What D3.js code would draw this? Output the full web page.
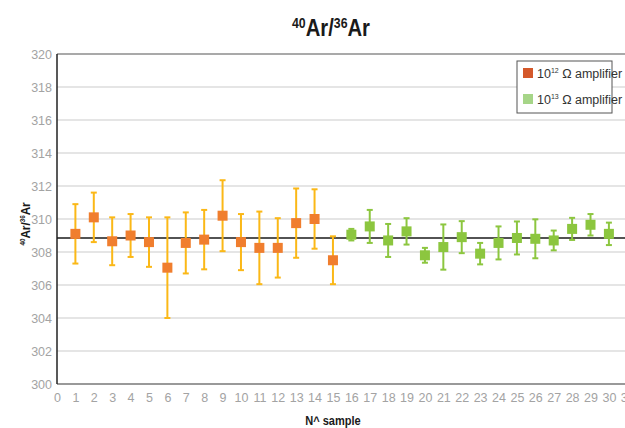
<!DOCTYPE html>
<html>
<head>
<meta charset="utf-8">
<script src="https://cdn.jsdelivr.net/npm/d3@7"></script>
<style>
  body { margin: 0; background: #fff; }
  svg { display: block; font-family: "Liberation Sans Narrow", "Liberation Sans", Arial, sans-serif; }
  .tick-label { fill: #a3a3a3; font-size: 12.5px; }
</style>
</head>
<body>
<div id="chart"></div>
<script>
const width = 625;
const height = 428;

// samples measured with the 10^12 ohm amplifier
const samples12 = [1, 2, 3, 4, 5, 6, 7, 8, 9, 10, 11, 12, 13, 14, 15];
const values12 = [309.1, 310.1, 308.65, 309.0, 308.6, 307.05, 308.55, 308.75, 310.2, 308.6, 308.25, 308.25, 309.75, 310.0, 307.5];
const errors12 = [1.8, 1.5, 1.45, 1.3, 1.5, 3.05, 1.85, 1.8, 2.15, 1.7, 2.2, 1.8, 2.1, 1.8, 1.45];

// samples measured with the 10^13 ohm amplifier
const samples13 = [16, 17, 18, 19, 20, 21, 22, 23, 24, 25, 26, 27, 28, 29, 30];
const values13 = [309.05, 309.55, 308.7, 309.25, 307.8, 308.3, 308.9, 307.9, 308.55, 308.85, 308.8, 308.7, 309.4, 309.65, 309.1];
const errors13 = [0.35, 1.0, 1.0, 0.8, 0.45, 1.37, 0.97, 0.65, 1.0, 1.0, 1.18, 0.6, 0.67, 0.65, 0.68];

const meanValue = 308.85;
const yTicks = d3.range(300, 321, 2);
const xTicks = d3.range(0, 32, 1);

const margin = {left: 57, top: 54, bottom: 44};

const x = d3.scaleLinear().domain([0, 31]).range([margin.left, 627.3]);
const y = d3.scaleLinear().domain([300, 320]).range([height - margin.bottom, margin.top]);

const svg = d3.select("#chart")
  .append("svg")
  .attr("width", width)
  .attr("height", height);

// grid
svg.append("g")
  .selectAll("line")
  .data(yTicks.filter(d => d > 300 && d < 320))
  .join("line")
  .attr("x1", x(0))
  .attr("x2", width)
  .attr("y1", d => y(d))
  .attr("y2", d => y(d))
  .attr("stroke", "#dcdcdc")
  .attr("stroke-width", 1.5);

// frame lines
svg.append("line")
  .attr("x1", x(0)).attr("x2", width)
  .attr("y1", y(320)).attr("y2", y(320))
  .attr("stroke", "#555").attr("stroke-width", 1.2);
svg.append("line")
  .attr("x1", x(0)).attr("x2", width)
  .attr("y1", y(300)).attr("y2", y(300))
  .attr("stroke", "#777").attr("stroke-width", 1.5);
svg.append("line")
  .attr("x1", x(0)).attr("x2", x(0))
  .attr("y1", y(320)).attr("y2", y(300))
  .attr("stroke", "#222").attr("stroke-width", 1.5);

// y axis labels
const yAxis = d3.axisLeft(y).tickValues(yTicks).tickSize(0).tickPadding(5);
svg.append("g")
  .attr("transform", `translate(${x(0)},0)`)
  .call(yAxis)
  .call(g => g.select(".domain").remove())
  .call(g => g.selectAll("text").attr("class", "tick-label").attr("font-family", null).attr("font-size", null).attr("fill", null));

// x axis labels
const xAxis = d3.axisBottom(x).tickValues(xTicks).tickSize(0).tickPadding(9);
svg.append("g")
  .attr("transform", `translate(0,${y(300)})`)
  .call(xAxis)
  .call(g => g.select(".domain").remove())
  .call(g => g.selectAll("text").attr("class", "tick-label").attr("font-family", null).attr("font-size", null).attr("fill", null));

// mean line
svg.append("line")
  .attr("x1", x(0)).attr("x2", width)
  .attr("y1", y(meanValue)).attr("y2", y(meanValue))
  .attr("stroke", "#1a1a1a").attr("stroke-width", 1.5);

function drawSeries(samples, values, errors, barColour, markColour) {
  const data = samples.map((s, i) => ({s, v: values[i], e: errors[i]}));
  const g = svg.append("g");
  const bars = g.selectAll("g").data(data).join("g");
  bars.append("line")
    .attr("x1", d => x(d.s)).attr("x2", d => x(d.s))
    .attr("y1", d => y(d.v + d.e)).attr("y2", d => y(d.v - d.e))
    .attr("stroke", barColour).attr("stroke-width", 2);
  bars.append("line")
    .attr("x1", d => x(d.s) - 3).attr("x2", d => x(d.s) + 3)
    .attr("y1", d => y(d.v + d.e)).attr("y2", d => y(d.v + d.e))
    .attr("stroke", barColour).attr("stroke-width", 2);
  bars.append("line")
    .attr("x1", d => x(d.s) - 3).attr("x2", d => x(d.s) + 3)
    .attr("y1", d => y(d.v - d.e)).attr("y2", d => y(d.v - d.e))
    .attr("stroke", barColour).attr("stroke-width", 2);
  bars.append("rect")
    .attr("x", d => x(d.s) - 5).attr("y", d => y(d.v) - 5)
    .attr("width", 10).attr("height", 10)
    .attr("fill", markColour);
}

drawSeries(samples12, values12, errors12, "#fbb817", "#f07e2e");
drawSeries(samples13, values13, errors13, "#8cc63f", "#8cc63f");

// title (squeezed a little to look condensed)
const title = svg.append("text")
  .attr("transform", "translate(331,36) scale(0.88,1)")
  .attr("text-anchor", "middle")
  .attr("font-weight", "bold")
  .attr("font-size", 23)
  .attr("fill", "#1a1a1a");
title.append("tspan").attr("font-size", 14).attr("dy", -8).text("40");
title.append("tspan").attr("dy", 8).text("Ar/");
title.append("tspan").attr("font-size", 14).attr("dy", -8).text("36");
title.append("tspan").attr("dy", 8).text("Ar");

// y label
const yLabel = svg.append("text")
  .attr("transform", `translate(30,${y(309.7)}) rotate(-90) scale(0.9,1)`)
  .attr("text-anchor", "middle")
  .attr("font-weight", "bold")
  .attr("font-size", 13)
  .attr("fill", "#1a1a1a");
yLabel.append("tspan").attr("font-size", 7).attr("dy", -5).text("40");
yLabel.append("tspan").attr("dy", 5).text("Ar/");
yLabel.append("tspan").attr("font-size", 7).attr("dy", -5).text("36");
yLabel.append("tspan").attr("dy", 5).text("Ar");

// x label
svg.append("text")
  .attr("transform", "translate(333,425) scale(0.85,1)")
  .attr("text-anchor", "middle")
  .attr("font-weight", "bold")
  .attr("font-size", 13)
  .attr("fill", "#1a1a1a")
  .text("N^ sample");

// legend
const legendItems = [
  {exp: "12", colour: "#d4582a"},
  {exp: "13", colour: "#a6d588"}
];
const legend = svg.append("g").attr("transform", "translate(517,61)");
legend.append("rect")
  .attr("width", 95).attr("height", 52)
  .attr("fill", "#fff").attr("stroke", "#555").attr("stroke-width", 1);
const items = legend.selectAll("g.item").data(legendItems).join("g")
  .attr("class", "item")
  .attr("transform", (d, i) => `translate(6,${7 + i * 26})`);
items.append("rect").attr("width", 10).attr("height", 10).attr("fill", d => d.colour);
const itemText = items.append("text")
  .attr("x", 14).attr("y", 10)
  .attr("font-size", 12.5)
  .attr("fill", "#333");
itemText.append("tspan").text("10");
itemText.append("tspan").attr("font-size", 7).attr("dy", -5).text(d => d.exp);
itemText.append("tspan").attr("dy", 5).text(" \u03A9 amplifier");
</script>
</body>
</html>
